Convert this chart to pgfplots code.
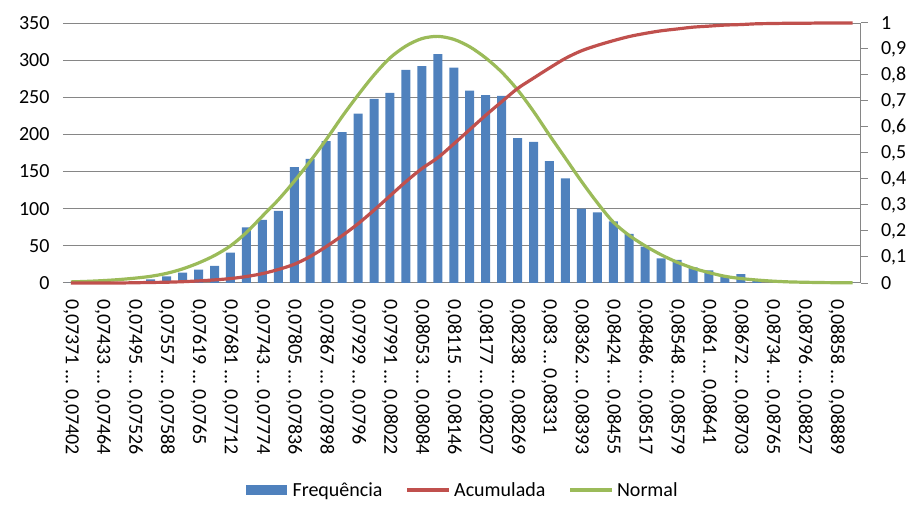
\documentclass[border=0pt]{standalone}
\usepackage{pgfplots}
\pgfplotsset{compat=1.18}
\usepackage{fontspec}
\setmainfont{Carlito}
\definecolor{barblue}{HTML}{4F81BD}
\definecolor{accred}{HTML}{C0504D}
\definecolor{normgreen}{HTML}{9BBB59}
\definecolor{gridgray}{HTML}{868686}
\newcommand{\tfont}{\fontsize{20}{24}\selectfont}
\protected\def\ddd{\ .{}.{}.\ }
\begin{document}
\begin{tikzpicture}
\path[use as bounding box] (0pt,0pt) rectangle (921pt,522pt);
\begin{axis}[
  at={(63pt,239pt)}, anchor=south west,
  scale only axis, width=797.5pt, height=260pt,
  xmin=-0.5, xmax=49.5, ymin=0, ymax=350,
  ytick={0,50,...,350},
  xtick={0,2,...,48},
  xticklabels={{0,07371\ddd0,07402},{0,07433\ddd0,07464},{0,07495\ddd0,07526},{0,07557\ddd0,07588},{0,07619\ddd0,0765},{0,07681\ddd0,07712},{0,07743\ddd0,07774},{0,07805\ddd0,07836},{0,07867\ddd0,07898},{0,07929\ddd0,0796},{0,07991\ddd0,08022},{0,08053\ddd0,08084},{0,08115\ddd0,08146},{0,08177\ddd0,08207},{0,08238\ddd0,08269},{0,083\ddd0,08331},{0,08362\ddd0,08393},{0,08424\ddd0,08455},{0,08486\ddd0,08517},{0,08548\ddd0,08579},{0,0861\ddd0,08641},{0,08672\ddd0,08703},{0,08734\ddd0,08765},{0,08796\ddd0,08827},{0,08858\ddd0,08889}},
  xticklabel style={font=\tfont, rotate=-90, anchor=west, inner xsep=0pt},
  xticklabel shift=16pt,
  yticklabel style={font=\tfont, xshift=-10pt},
  /pgf/number format/assume math mode=true,
  axis line style={draw=none},
  tick style={draw=none},
  ymajorgrids, grid style={gridgray, line width=1pt},
  clip=false,
]
\addplot[ybar, bar width=9pt, bar shift=0pt, fill=barblue, draw=none] table {
x y
0 0
1 0
2 0
3 0
4 0
5 5
6 9
7 14
8 18
9 23
10 41
11 75
12 85
13 97
14 156
15 167
16 191
17 203
18 228
19 248
20 256
21 287
22 292
23 308
24 290
25 259
26 253
27 252
28 195
29 190
30 164
31 141
32 100
33 95
34 83
35 66
36 49
37 33
38 31
39 21
40 17
41 9
42 12
43 3
44 0
45 0
46 0
47 0
48 0
49 0
};
\addplot[normgreen, line width=3.2pt, smooth] table {
x y
0 1.5
1 2.2
2 3.2
3 4.6
4 6.5
5 9
6 13
7 19
8 27
9 37
10 50
11 68
12 90
13 112
14 137
15 164
16 193
17 224
18 253
19 280
20 303
21 319
22 329
23 332
24 328
25 318
26 303
27 284
28 260
29 231
30 199
31 168
32 137
33 108
34 82
35 64
36 50
37 38
38 28
39 20
40 14
41 9
42 6
43 4
44 2.5
45 1.5
46 1
47 0.6
48 0.4
49 0.2
};
\end{axis}
\begin{axis}[
  at={(63pt,239pt)}, anchor=south west,
  scale only axis, width=797.5pt, height=260pt,
  xmin=-0.5, xmax=49.5, ymin=0, ymax=1,
  axis x line=none,
  axis y line*=right,
  y axis line style={gridgray, line width=1pt, -},
  ytick={0,0.1,...,1.01},
  ytick style={gridgray, line width=1pt},
  tick align=outside, major tick length=7pt,
  yticklabel style={font=\tfont, xshift=10pt, /pgf/number format/.cd, use comma, fixed},
  /pgf/number format/assume math mode=true,
  legend style={at={(0.5016,-0.796)}, anchor=center, draw=none, fill=none,
    legend columns=3, font=\tfont,
    /tikz/every even column/.append style={column sep=21pt},
    nodes={inner sep=2pt}},
  legend cell align=left,
  clip=false,
]
\addlegendimage{legend image code/.code={\fill[barblue] (0pt,-4.5pt) rectangle (40pt,4.5pt); \path[draw=none,fill=none] (0pt,0pt) rectangle (44pt,0.1pt);}}
\addlegendentry{Frequência}
\addplot[accred, line width=3.2pt, smooth,
  legend image code/.code={\draw[accred, line width=3.2pt] (0pt,0pt) -- (42pt,0pt); \path[draw=none,fill=none] (0pt,0pt) rectangle (45pt,0.1pt);}] table {
x y
0 0
1 0
2 0
3 0
4 0.001
5 0.002
6 0.003
7 0.005
8 0.008
9 0.012
10 0.017
11 0.025
12 0.036
13 0.052
14 0.072
15 0.102
16 0.140
17 0.182
18 0.228
19 0.280
20 0.335
21 0.390
22 0.440
23 0.482
24 0.535
25 0.590
26 0.645
27 0.697
28 0.748
29 0.788
30 0.827
31 0.864
32 0.893
33 0.914
34 0.932
35 0.948
36 0.960
37 0.970
38 0.977
39 0.984
40 0.988
41 0.992
42 0.994
43 0.997
44 0.998
45 0.999
46 0.999
47 1
48 1
49 1
};
\addlegendentry{Acumulada}
\addlegendimage{legend image code/.code={\draw[normgreen, line width=3.2pt] (0pt,0pt) -- (42pt,0pt); \path[draw=none,fill=none] (0pt,0pt) rectangle (45pt,0.1pt);}}
\addlegendentry{Normal}
\end{axis}
\end{tikzpicture}
\end{document}
